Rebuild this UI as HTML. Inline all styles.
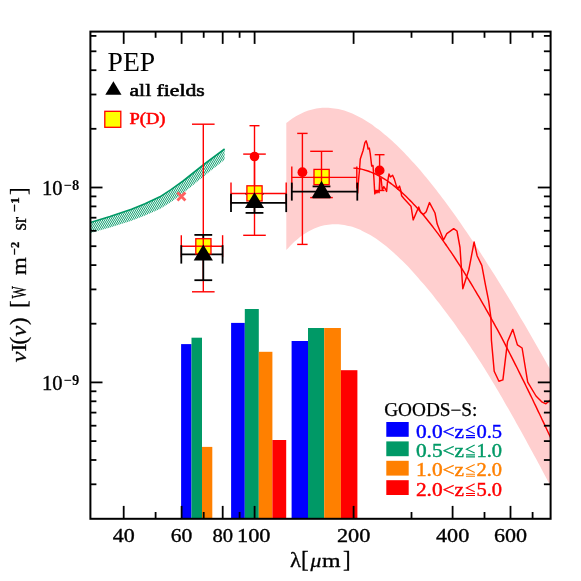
<!DOCTYPE html><html><head><meta charset="utf-8"><title>PEP CIB</title>
<style>html,body{margin:0;padding:0;background:#fff}svg{display:block;will-change:transform}text{font-family:"Liberation Serif",serif}</style></head><body>
<svg width="581" height="581" viewBox="0 0 581 581">
<defs>
<clipPath id="c"><rect x="90.4" y="31.6" width="460.2" height="487.2"/></clipPath></defs>
<path d="M286.3 123.0 C287.0 122.5 289.0 120.9 290.3 119.9 C291.6 119.0 293.0 118.1 294.3 117.2 C295.6 116.4 297.0 115.6 298.3 114.9 C299.6 114.1 301.0 113.5 302.3 112.9 C303.6 112.3 305.0 111.7 306.3 111.2 C307.6 110.7 309.0 110.3 310.3 109.9 C311.6 109.5 313.0 109.2 314.3 108.9 C315.6 108.6 317.0 108.4 318.3 108.2 C319.6 108.0 321.0 107.9 322.3 107.8 C323.6 107.7 325.0 107.7 326.3 107.7 C327.6 107.7 329.0 107.8 330.3 107.9 C331.6 108.0 333.0 108.2 334.3 108.4 C335.6 108.6 337.0 108.8 338.3 109.1 C339.6 109.4 341.0 109.7 342.3 110.1 C343.6 110.5 345.0 110.9 346.3 111.3 C347.6 111.8 349.0 112.3 350.3 112.8 C351.6 113.4 353.0 113.9 354.3 114.5 C355.6 115.1 357.0 115.8 358.3 116.5 C359.6 117.2 361.0 117.9 362.3 118.6 C363.6 119.4 365.0 120.2 366.3 121.0 C367.6 121.8 369.0 122.7 370.3 123.6 C371.6 124.5 373.0 125.4 374.3 126.4 C375.6 127.3 377.0 128.3 378.3 129.3 C379.6 130.3 381.0 131.4 382.3 132.5 C383.6 133.6 385.0 134.7 386.3 135.8 C387.6 136.9 389.0 138.1 390.3 139.3 C391.6 140.5 393.0 141.7 394.3 143.0 C395.6 144.2 397.0 145.5 398.3 146.8 C399.6 148.1 401.0 149.4 402.3 150.8 C403.6 152.1 405.0 153.5 406.3 154.9 C407.6 156.3 409.0 157.7 410.3 159.2 C411.6 160.6 413.0 162.1 414.3 163.6 C415.6 165.1 417.0 166.6 418.3 168.1 C419.6 169.7 421.0 171.2 422.3 172.8 C423.6 174.4 425.0 176.0 426.3 177.6 C427.6 179.2 429.0 180.9 430.3 182.5 C431.6 184.2 433.0 185.9 434.3 187.6 C435.6 189.3 437.0 191.0 438.3 192.7 C439.6 194.4 441.0 196.2 442.3 198.0 C443.6 199.7 445.0 201.5 446.3 203.3 C447.6 205.1 449.0 206.9 450.3 208.8 C451.6 210.6 453.0 212.5 454.3 214.3 C455.6 216.2 457.0 218.1 458.3 220.0 C459.6 221.9 461.0 223.8 462.3 225.7 C463.6 227.7 465.0 229.6 466.3 231.6 C467.6 233.5 469.0 235.5 470.3 237.5 C471.6 239.5 473.0 241.5 474.3 243.5 C475.6 245.5 477.0 247.5 478.3 249.5 C479.6 251.6 481.0 253.6 482.3 255.7 C483.6 257.8 485.0 259.8 486.3 261.9 C487.6 264.0 489.0 266.1 490.3 268.2 C491.6 270.3 493.0 272.4 494.3 274.6 C495.6 276.7 497.0 278.8 498.3 281.0 C499.6 283.1 501.0 285.3 502.3 287.5 C503.6 289.6 505.0 291.8 506.3 294.0 C507.6 296.2 509.0 298.4 510.3 300.6 C511.6 302.8 513.0 305.1 514.3 307.3 C515.6 309.5 517.0 311.8 518.3 314.0 C519.6 316.3 521.0 318.5 522.3 320.8 C523.6 323.0 525.0 325.3 526.3 327.6 C527.6 329.9 529.0 332.2 530.3 334.5 C531.6 336.8 533.0 339.1 534.3 341.4 C535.6 343.7 537.0 346.0 538.3 348.4 C539.6 350.7 541.0 353.0 542.3 355.4 C543.6 357.7 545.0 360.1 546.3 362.4 C547.6 364.8 549.6 368.2 550.3 369.5 C551.0 370.8 550.5 370.0 550.6 370.0 L552.4 489.6 C552.4 489.5 552.8 490.4 552.1 489.0 C551.4 487.7 549.5 484.0 548.1 481.5 C546.8 479.0 545.5 476.5 544.1 474.0 C542.8 471.5 541.5 469.0 540.2 466.5 C538.8 464.0 537.5 461.5 536.2 459.1 C534.9 456.6 533.5 454.2 532.2 451.7 C530.9 449.3 529.6 446.9 528.2 444.4 C526.9 442.0 525.6 439.6 524.3 437.2 C522.9 434.8 521.6 432.4 520.3 430.0 C519.0 427.6 517.6 425.2 516.3 422.9 C515.0 420.5 513.7 418.2 512.3 415.8 C511.0 413.5 509.7 411.2 508.4 408.8 C507.0 406.5 505.7 404.2 504.4 401.9 C503.0 399.6 501.7 397.3 500.4 395.1 C499.1 392.8 497.7 390.5 496.4 388.3 C495.1 386.1 493.8 383.8 492.4 381.6 C491.1 379.4 489.8 377.2 488.5 375.0 C487.1 372.8 485.8 370.6 484.5 368.5 C483.1 366.3 481.8 364.1 480.4 362.0 C479.1 359.9 477.7 357.8 476.3 355.7 C474.9 353.5 473.5 351.5 472.1 349.4 C470.8 347.3 469.4 345.3 468.0 343.2 C466.6 341.2 465.2 339.2 463.9 337.1 C462.5 335.1 461.1 333.1 459.7 331.2 C458.3 329.2 456.9 327.2 455.6 325.3 C454.2 323.4 452.8 321.5 451.4 319.6 C450.0 317.7 448.6 315.8 447.3 313.9 C445.9 312.1 444.5 310.2 443.1 308.4 C441.7 306.6 440.4 304.8 439.0 303.0 C437.6 301.2 436.2 299.5 434.8 297.7 C433.4 296.0 432.1 294.3 430.7 292.6 C429.3 290.9 427.9 289.3 426.5 287.6 C425.1 286.0 423.8 284.3 422.4 282.8 C421.0 281.2 419.6 279.6 418.3 278.0 C417.0 276.5 415.6 275.0 414.3 273.5 C413.0 272.0 411.6 270.5 410.3 269.1 C409.0 267.6 407.6 266.2 406.3 264.8 C405.0 263.5 403.6 262.1 402.3 260.8 C401.0 259.5 399.6 258.2 398.3 256.9 C397.0 255.6 395.6 254.4 394.3 253.2 C393.0 252.0 391.6 250.8 390.3 249.7 C389.0 248.5 387.6 247.4 386.3 246.3 C385.0 245.3 383.6 244.2 382.3 243.2 C381.0 242.2 379.6 241.2 378.3 240.3 C377.0 239.4 375.6 238.5 374.3 237.6 C373.0 236.7 371.6 235.9 370.3 235.1 C369.0 234.3 367.6 233.6 366.3 232.9 C365.0 232.2 363.6 231.5 362.3 230.9 C361.0 230.2 359.6 229.6 358.3 229.1 C357.0 228.5 355.6 228.0 354.3 227.6 C353.0 227.1 351.6 226.7 350.3 226.3 C349.0 226.0 347.6 225.6 346.3 225.4 C345.0 225.1 343.6 224.9 342.3 224.7 C341.0 224.5 339.6 224.4 338.3 224.3 C337.0 224.2 335.6 224.2 334.3 224.2 C333.0 224.2 331.6 224.3 330.3 224.4 C329.0 224.5 327.6 224.7 326.3 224.9 C325.0 225.1 323.6 225.4 322.3 225.8 C321.0 226.1 319.6 226.5 318.3 226.9 C317.0 227.4 315.6 227.9 314.3 228.5 C313.0 229.1 311.6 229.7 310.3 230.4 C309.0 231.1 307.6 231.8 306.3 232.7 C305.0 233.5 303.6 234.4 302.3 235.3 C301.0 236.3 299.6 237.3 298.3 238.4 C297.0 239.5 295.6 240.6 294.3 241.8 C293.0 243.0 291.6 244.3 290.3 245.7 C289.0 247.1 287.0 249.3 286.3 250.0 Z" fill="#ffcfcf" clip-path="url(#c)"/>
<clipPath id="gb"><polygon points="90.4,222.6 110.0,216.6 131.5,209.3 145.0,203.7 159.9,196.8 171.0,189.6 183.1,181.0 203.8,164.5 224.6,149.0 224.6,159.8 203.8,176.3 183.1,193.3 171.0,201.9 159.9,208.9 145.0,215.5 131.5,220.7 110.0,227.5 90.4,233.0"/></clipPath>
<path d="M60.00 240L115.00 145M61.95 240L116.95 145M63.90 240L118.90 145M65.85 240L120.85 145M67.80 240L122.80 145M69.75 240L124.75 145M71.70 240L126.70 145M73.65 240L128.65 145M75.60 240L130.60 145M77.55 240L132.55 145M79.50 240L134.50 145M81.45 240L136.45 145M83.40 240L138.40 145M85.35 240L140.35 145M87.30 240L142.30 145M89.25 240L144.25 145M91.20 240L146.20 145M93.15 240L148.15 145M95.10 240L150.10 145M97.05 240L152.05 145M99.00 240L154.00 145M100.95 240L155.95 145M102.90 240L157.90 145M104.85 240L159.85 145M106.80 240L161.80 145M108.75 240L163.75 145M110.70 240L165.70 145M112.65 240L167.65 145M114.60 240L169.60 145M116.55 240L171.55 145M118.50 240L173.50 145M120.45 240L175.45 145M122.40 240L177.40 145M124.35 240L179.35 145M126.30 240L181.30 145M128.25 240L183.25 145M130.20 240L185.20 145M132.15 240L187.15 145M134.10 240L189.10 145M136.05 240L191.05 145M138.00 240L193.00 145M139.95 240L194.95 145M141.90 240L196.90 145M143.85 240L198.85 145M145.80 240L200.80 145M147.75 240L202.75 145M149.70 240L204.70 145M151.65 240L206.65 145M153.60 240L208.60 145M155.55 240L210.55 145M157.50 240L212.50 145M159.45 240L214.45 145M161.40 240L216.40 145M163.35 240L218.35 145M165.30 240L220.30 145M167.25 240L222.25 145M169.20 240L224.20 145M171.15 240L226.15 145M173.10 240L228.10 145M175.05 240L230.05 145M177.00 240L232.00 145M178.95 240L233.95 145M180.90 240L235.90 145M182.85 240L237.85 145M184.80 240L239.80 145M186.75 240L241.75 145M188.70 240L243.70 145M190.65 240L245.65 145M192.60 240L247.60 145M194.55 240L249.55 145M196.50 240L251.50 145M198.45 240L253.45 145M200.40 240L255.40 145M202.35 240L257.35 145M204.30 240L259.30 145M206.25 240L261.25 145M208.20 240L263.20 145M210.15 240L265.15 145M212.10 240L267.10 145M214.05 240L269.05 145M216.00 240L271.00 145M217.95 240L272.95 145M219.90 240L274.90 145M221.85 240L276.85 145M223.80 240L278.80 145M225.75 240L280.75 145M227.70 240L282.70 145M229.65 240L284.65 145M231.60 240L286.60 145M233.55 240L288.55 145M235.50 240L290.50 145M237.45 240L292.45 145M239.40 240L294.40 145" stroke="#009966" stroke-width="0.95" fill="none" clip-path="url(#gb)"/>
<polyline points="90.4,222.6 110.0,216.6 131.5,209.3 145.0,203.7 159.9,196.8 171.0,189.6 183.1,181.0 203.8,164.5 224.6,149.0" fill="none" stroke="#009966" stroke-width="1.6"/>
<rect x="181.1" y="344.1" width="10.4" height="174.7" fill="#0000ff"/>
<rect x="191.5" y="337.7" width="10.5" height="181.1" fill="#009966"/>
<rect x="202.0" y="446.9" width="10.3" height="71.9" fill="#ff8000"/>
<rect x="231.1" y="322.9" width="13.7" height="195.9" fill="#0000ff"/>
<rect x="244.8" y="309.0" width="14.0" height="209.8" fill="#009966"/>
<rect x="258.8" y="351.8" width="13.6" height="167.0" fill="#ff8000"/>
<rect x="272.4" y="440.0" width="13.8" height="78.8" fill="#ff0000"/>
<rect x="291.6" y="341.0" width="16.4" height="177.8" fill="#0000ff"/>
<rect x="308.0" y="328.0" width="16.2" height="190.8" fill="#009966"/>
<rect x="324.2" y="328.0" width="16.7" height="190.8" fill="#ff8000"/>
<rect x="340.9" y="370.2" width="16.5" height="148.6" fill="#ff0000"/>
<path d="M177.4 192.4 L185.4 200.4 M177.4 200.4 L185.4 192.4" stroke="#ff6060" stroke-width="2.8" fill="none"/>
<path d="M353.4 168.1 C354.1 168.1 356.1 168.3 357.4 168.4 C358.7 168.6 360.1 168.9 361.4 169.1 C362.7 169.4 364.1 169.8 365.4 170.2 C366.7 170.5 368.1 171.0 369.4 171.5 C370.7 172.0 372.1 172.5 373.4 173.1 C374.7 173.7 376.1 174.3 377.4 175.0 C378.7 175.7 380.1 176.4 381.4 177.2 C382.7 178.0 384.1 178.8 385.4 179.7 C386.7 180.5 388.1 181.5 389.4 182.4 C390.7 183.4 392.1 184.4 393.4 185.4 C394.7 186.4 396.1 187.5 397.4 188.6 C398.7 189.8 400.1 190.9 401.4 192.1 C402.7 193.3 404.1 194.5 405.4 195.8 C406.7 197.1 408.1 198.4 409.4 199.7 C410.7 201.1 412.1 202.5 413.4 203.9 C414.7 205.3 416.1 206.8 417.4 208.2 C418.7 209.7 420.1 211.2 421.4 212.8 C422.7 214.3 424.1 215.9 425.4 217.5 C426.7 219.2 428.1 220.8 429.4 222.5 C430.7 224.2 432.1 225.9 433.4 227.6 C434.7 229.3 436.1 231.1 437.4 232.9 C438.7 234.7 440.1 236.5 441.4 238.4 C442.7 240.2 444.1 242.1 445.4 244.0 C446.7 245.9 448.1 247.8 449.4 249.8 C450.7 251.7 452.1 253.7 453.4 255.7 C454.7 257.7 456.1 259.8 457.4 261.8 C458.7 263.9 460.1 265.9 461.4 268.0 C462.7 270.1 464.1 272.3 465.4 274.4 C466.7 276.5 468.1 278.7 469.4 280.9 C470.7 283.1 472.1 285.3 473.4 287.5 C474.7 289.8 476.1 292.0 477.4 294.3 C478.7 296.5 480.1 298.8 481.4 301.1 C482.7 303.5 484.1 305.8 485.4 308.1 C486.7 310.5 488.1 312.8 489.4 315.2 C490.7 317.6 492.1 320.0 493.4 322.4 C494.7 324.8 496.1 327.3 497.4 329.7 C498.7 332.2 500.1 334.7 501.4 337.2 C502.7 339.7 504.1 342.3 505.4 344.9 C506.7 347.5 508.1 350.1 509.4 352.7 C510.7 355.3 512.1 357.9 513.4 360.6 C514.7 363.2 516.1 365.9 517.4 368.5 C518.7 371.2 520.1 373.9 521.4 376.6 C522.7 379.3 524.1 382.0 525.4 384.7 C526.7 387.5 528.1 390.2 529.4 392.9 C530.7 395.7 532.1 398.4 533.4 401.2 C534.7 404.0 536.1 406.8 537.4 409.6 C538.7 412.4 540.1 415.2 541.4 418.0 C542.7 420.8 544.1 423.6 545.4 426.5 C546.7 429.3 548.5 433.2 549.4 435.0 C550.3 436.9 550.4 437.2 550.6 437.6" fill="none" stroke="#ff0000" stroke-width="1.45" clip-path="url(#c)"/>
<polyline points="357.7,193.5 358.3,183.0 359.5,169.8 360.3,158.9 363.1,150.5 364.9,142.7 366.1,140.8 367.3,144.5 368.1,149.0 369.3,148.1 370.3,154.1 371.7,166.1 373.0,165.5 373.9,178.2 374.8,193.9 376.1,191.4 376.9,192.9 378.1,190.8 379.1,192.7 379.9,178.2 381.1,178.2 382.3,190.2 383.8,186.6 385.4,189.0 386.6,191.4 387.4,183.0 389.0,174.0 390.5,177.0 392.6,175.2 394.4,179.4 396.2,185.4 397.7,189.0 399.5,186.0 400.7,190.2 401.6,195.7 404.1,198.7 411.0,206.2 413.2,219.9 418.7,207.0 420.7,212.5 423.4,214.4 426.2,211.7 429.5,202.6 435.0,213.0 437.2,224.1 443.5,240.0 446.8,233.7 453.7,228.7 457.0,231.0 460.0,247.5 462.8,288.8 468.9,269.5 474.1,242.0 477.1,255.7 481.8,265.4 485.4,284.7 488.7,301.2 490.9,317.7 491.4,340.0 494.2,371.3 498.9,381.2 502.9,379.9 507.5,341.8 512.8,329.4 517.4,344.9 522.1,348.0 527.7,382.1 536.0,396.0 542.2,402.2 545.9,403.8 550.6,399.8" fill="none" stroke="#ff0000" stroke-width="1.45" stroke-linejoin="round" clip-path="url(#c)"/>
<line x1="203.3" y1="124.2" x2="203.3" y2="291.8" stroke="#ff0000" stroke-width="1.40"/>
<line x1="192.0" y1="124.2" x2="214.6" y2="124.2" stroke="#ff0000" stroke-width="1.40"/>
<line x1="192.0" y1="291.8" x2="214.6" y2="291.8" stroke="#ff0000" stroke-width="1.40"/>
<line x1="254.5" y1="154.1" x2="254.5" y2="235.3" stroke="#ff0000" stroke-width="1.40"/>
<line x1="243.2" y1="154.1" x2="265.8" y2="154.1" stroke="#ff0000" stroke-width="1.40"/>
<line x1="243.2" y1="235.3" x2="265.8" y2="235.3" stroke="#ff0000" stroke-width="1.40"/>
<line x1="321.5" y1="151.3" x2="321.5" y2="197.6" stroke="#ff0000" stroke-width="1.40"/>
<line x1="310.2" y1="151.3" x2="332.8" y2="151.3" stroke="#ff0000" stroke-width="1.40"/>
<line x1="310.2" y1="197.6" x2="332.8" y2="197.6" stroke="#ff0000" stroke-width="1.40"/>
<line x1="181.3" y1="246.2" x2="222.6" y2="246.2" stroke="#ff0000" stroke-width="1.40"/>
<line x1="181.3" y1="235.2" x2="181.3" y2="257.2" stroke="#ff0000" stroke-width="1.40"/>
<line x1="222.6" y1="235.2" x2="222.6" y2="257.2" stroke="#ff0000" stroke-width="1.40"/>
<line x1="231.0" y1="193.5" x2="286.2" y2="193.5" stroke="#ff0000" stroke-width="1.40"/>
<line x1="231.0" y1="182.5" x2="231.0" y2="204.5" stroke="#ff0000" stroke-width="1.40"/>
<line x1="286.2" y1="182.5" x2="286.2" y2="204.5" stroke="#ff0000" stroke-width="1.40"/>
<line x1="291.8" y1="177.4" x2="356.8" y2="177.4" stroke="#ff0000" stroke-width="1.40"/>
<line x1="291.8" y1="166.4" x2="291.8" y2="188.4" stroke="#ff0000" stroke-width="1.40"/>
<line x1="356.8" y1="166.4" x2="356.8" y2="188.4" stroke="#ff0000" stroke-width="1.40"/>
<line x1="254.5" y1="125.7" x2="254.5" y2="205.6" stroke="#ff0000" stroke-width="1.40"/>
<line x1="249.5" y1="125.7" x2="259.5" y2="125.7" stroke="#ff0000" stroke-width="1.40"/>
<line x1="249.5" y1="205.6" x2="259.5" y2="205.6" stroke="#ff0000" stroke-width="1.40"/>
<circle cx="254.5" cy="156.5" r="4.8" fill="#ff0000"/>
<line x1="302.4" y1="133.4" x2="302.4" y2="244.4" stroke="#ff0000" stroke-width="1.40"/>
<line x1="297.2" y1="133.4" x2="307.6" y2="133.4" stroke="#ff0000" stroke-width="1.40"/>
<line x1="297.2" y1="244.4" x2="307.6" y2="244.4" stroke="#ff0000" stroke-width="1.40"/>
<circle cx="302.4" cy="172.2" r="4.9" fill="#ff0000"/>
<line x1="379.6" y1="154.7" x2="379.6" y2="190.5" stroke="#ff0000" stroke-width="1.40"/>
<line x1="374.7" y1="154.7" x2="384.5" y2="154.7" stroke="#ff0000" stroke-width="1.40"/>
<line x1="374.7" y1="190.5" x2="384.5" y2="190.5" stroke="#ff0000" stroke-width="1.40"/>
<circle cx="379.6" cy="170.4" r="4.9" fill="#ff0000"/>
<line x1="181.3" y1="254.4" x2="222.6" y2="254.4" stroke="#000" stroke-width="1.80"/>
<line x1="181.3" y1="245.2" x2="181.3" y2="263.6" stroke="#000" stroke-width="1.80"/>
<line x1="222.6" y1="245.2" x2="222.6" y2="263.6" stroke="#000" stroke-width="1.80"/>
<line x1="203.3" y1="234.9" x2="203.3" y2="280.2" stroke="#000" stroke-width="1.80"/>
<line x1="194.4" y1="234.9" x2="212.2" y2="234.9" stroke="#000" stroke-width="1.80"/>
<line x1="194.4" y1="280.2" x2="212.2" y2="280.2" stroke="#000" stroke-width="1.80"/>
<line x1="231.0" y1="202.9" x2="286.2" y2="202.9" stroke="#000" stroke-width="1.80"/>
<line x1="231.0" y1="193.7" x2="231.0" y2="212.1" stroke="#000" stroke-width="1.80"/>
<line x1="286.2" y1="193.7" x2="286.2" y2="212.1" stroke="#000" stroke-width="1.80"/>
<line x1="254.5" y1="194.0" x2="254.5" y2="212.9" stroke="#000" stroke-width="1.80"/>
<line x1="245.6" y1="194.0" x2="263.4" y2="194.0" stroke="#000" stroke-width="1.80"/>
<line x1="245.6" y1="212.9" x2="263.4" y2="212.9" stroke="#000" stroke-width="1.80"/>
<line x1="291.8" y1="191.6" x2="357.3" y2="191.6" stroke="#000" stroke-width="1.80"/>
<line x1="291.8" y1="182.6" x2="291.8" y2="200.6" stroke="#000" stroke-width="1.80"/>
<line x1="357.3" y1="182.6" x2="357.3" y2="200.6" stroke="#000" stroke-width="1.80"/>
<line x1="321.5" y1="186.4" x2="321.5" y2="197.4" stroke="#000" stroke-width="1.80"/>
<line x1="312.6" y1="186.4" x2="330.4" y2="186.4" stroke="#000" stroke-width="1.80"/>
<line x1="312.6" y1="197.4" x2="330.4" y2="197.4" stroke="#000" stroke-width="1.80"/>
<rect x="195.8" y="238.7" width="15.2" height="15.2" fill="#ffff00" stroke="#ff0000" stroke-width="1.3"/>
<line x1="195.0" y1="246.2" x2="212.0" y2="246.2" stroke="#ff0000" stroke-width="1.40"/>
<line x1="203.3" y1="238.0" x2="203.3" y2="255.0" stroke="#ff0000" stroke-width="1.40"/>
<rect x="246.9" y="185.8" width="15.2" height="15.2" fill="#ffff00" stroke="#ff0000" stroke-width="1.3"/>
<line x1="246.0" y1="193.5" x2="263.0" y2="193.5" stroke="#ff0000" stroke-width="1.40"/>
<line x1="254.5" y1="185.0" x2="254.5" y2="202.0" stroke="#ff0000" stroke-width="1.40"/>
<rect x="314.0" y="169.4" width="15.2" height="15.2" fill="#ffff00" stroke="#ff0000" stroke-width="1.3"/>
<line x1="313.0" y1="177.4" x2="330.0" y2="177.4" stroke="#ff0000" stroke-width="1.40"/>
<line x1="321.5" y1="169.0" x2="321.5" y2="185.0" stroke="#ff0000" stroke-width="1.40"/>
<polygon points="203.3,244.6 193.7,260.4 212.9,260.4" fill="#000"/>
<polygon points="254.5,192.2 244.9,208.0 264.1,208.0" fill="#000"/>
<polygon points="321.5,180.7 311.9,197.5 331.1,197.5" fill="#000"/>
<rect x="90.4" y="31.6" width="460.2" height="487.2" fill="none" stroke="#000" stroke-width="2"/>
<line x1="123.7" y1="518.8" x2="123.7" y2="505.9" stroke="#000" stroke-width="1.80"/>
<line x1="123.7" y1="31.6" x2="123.7" y2="43.9" stroke="#000" stroke-width="1.80"/>
<line x1="155.6" y1="518.8" x2="155.6" y2="512.0" stroke="#000" stroke-width="1.80"/>
<line x1="155.6" y1="31.6" x2="155.6" y2="37.8" stroke="#000" stroke-width="1.80"/>
<line x1="181.6" y1="518.8" x2="181.6" y2="505.9" stroke="#000" stroke-width="1.80"/>
<line x1="181.6" y1="31.6" x2="181.6" y2="43.9" stroke="#000" stroke-width="1.80"/>
<line x1="203.7" y1="518.8" x2="203.7" y2="512.0" stroke="#000" stroke-width="1.80"/>
<line x1="203.7" y1="31.6" x2="203.7" y2="37.8" stroke="#000" stroke-width="1.80"/>
<line x1="222.7" y1="518.8" x2="222.7" y2="505.9" stroke="#000" stroke-width="1.80"/>
<line x1="222.7" y1="31.6" x2="222.7" y2="43.9" stroke="#000" stroke-width="1.80"/>
<line x1="239.6" y1="518.8" x2="239.6" y2="512.0" stroke="#000" stroke-width="1.80"/>
<line x1="239.6" y1="31.6" x2="239.6" y2="37.8" stroke="#000" stroke-width="1.80"/>
<line x1="254.6" y1="518.8" x2="254.6" y2="505.9" stroke="#000" stroke-width="1.80"/>
<line x1="254.6" y1="31.6" x2="254.6" y2="43.9" stroke="#000" stroke-width="1.80"/>
<line x1="353.6" y1="518.8" x2="353.6" y2="505.9" stroke="#000" stroke-width="1.80"/>
<line x1="353.6" y1="31.6" x2="353.6" y2="43.9" stroke="#000" stroke-width="1.80"/>
<line x1="411.5" y1="518.8" x2="411.5" y2="512.0" stroke="#000" stroke-width="1.80"/>
<line x1="411.5" y1="31.6" x2="411.5" y2="37.8" stroke="#000" stroke-width="1.80"/>
<line x1="452.6" y1="518.8" x2="452.6" y2="505.9" stroke="#000" stroke-width="1.80"/>
<line x1="452.6" y1="31.6" x2="452.6" y2="43.9" stroke="#000" stroke-width="1.80"/>
<line x1="484.5" y1="518.8" x2="484.5" y2="512.0" stroke="#000" stroke-width="1.80"/>
<line x1="484.5" y1="31.6" x2="484.5" y2="37.8" stroke="#000" stroke-width="1.80"/>
<line x1="510.5" y1="518.8" x2="510.5" y2="505.9" stroke="#000" stroke-width="1.80"/>
<line x1="510.5" y1="31.6" x2="510.5" y2="43.9" stroke="#000" stroke-width="1.80"/>
<line x1="532.6" y1="518.8" x2="532.6" y2="512.0" stroke="#000" stroke-width="1.80"/>
<line x1="532.6" y1="31.6" x2="532.6" y2="37.8" stroke="#000" stroke-width="1.80"/>
<line x1="90.4" y1="484.3" x2="96.4" y2="484.3" stroke="#000" stroke-width="1.80"/>
<line x1="550.6" y1="484.3" x2="543.9" y2="484.3" stroke="#000" stroke-width="1.80"/>
<line x1="90.4" y1="460.0" x2="96.4" y2="460.0" stroke="#000" stroke-width="1.80"/>
<line x1="550.6" y1="460.0" x2="543.9" y2="460.0" stroke="#000" stroke-width="1.80"/>
<line x1="90.4" y1="441.1" x2="96.4" y2="441.1" stroke="#000" stroke-width="1.80"/>
<line x1="550.6" y1="441.1" x2="543.9" y2="441.1" stroke="#000" stroke-width="1.80"/>
<line x1="90.4" y1="425.7" x2="96.4" y2="425.7" stroke="#000" stroke-width="1.80"/>
<line x1="550.6" y1="425.7" x2="543.9" y2="425.7" stroke="#000" stroke-width="1.80"/>
<line x1="90.4" y1="412.6" x2="96.4" y2="412.6" stroke="#000" stroke-width="1.80"/>
<line x1="550.6" y1="412.6" x2="543.9" y2="412.6" stroke="#000" stroke-width="1.80"/>
<line x1="90.4" y1="401.3" x2="96.4" y2="401.3" stroke="#000" stroke-width="1.80"/>
<line x1="550.6" y1="401.3" x2="543.9" y2="401.3" stroke="#000" stroke-width="1.80"/>
<line x1="90.4" y1="391.3" x2="96.4" y2="391.3" stroke="#000" stroke-width="1.80"/>
<line x1="550.6" y1="391.3" x2="543.9" y2="391.3" stroke="#000" stroke-width="1.80"/>
<line x1="90.4" y1="382.4" x2="102.5" y2="382.4" stroke="#000" stroke-width="1.80"/>
<line x1="550.6" y1="382.4" x2="537.8" y2="382.4" stroke="#000" stroke-width="1.80"/>
<line x1="90.4" y1="323.7" x2="96.4" y2="323.7" stroke="#000" stroke-width="1.80"/>
<line x1="550.6" y1="323.7" x2="543.9" y2="323.7" stroke="#000" stroke-width="1.80"/>
<line x1="90.4" y1="289.4" x2="96.4" y2="289.4" stroke="#000" stroke-width="1.80"/>
<line x1="550.6" y1="289.4" x2="543.9" y2="289.4" stroke="#000" stroke-width="1.80"/>
<line x1="90.4" y1="265.1" x2="96.4" y2="265.1" stroke="#000" stroke-width="1.80"/>
<line x1="550.6" y1="265.1" x2="543.9" y2="265.1" stroke="#000" stroke-width="1.80"/>
<line x1="90.4" y1="246.2" x2="96.4" y2="246.2" stroke="#000" stroke-width="1.80"/>
<line x1="550.6" y1="246.2" x2="543.9" y2="246.2" stroke="#000" stroke-width="1.80"/>
<line x1="90.4" y1="230.8" x2="96.4" y2="230.8" stroke="#000" stroke-width="1.80"/>
<line x1="550.6" y1="230.8" x2="543.9" y2="230.8" stroke="#000" stroke-width="1.80"/>
<line x1="90.4" y1="217.7" x2="96.4" y2="217.7" stroke="#000" stroke-width="1.80"/>
<line x1="550.6" y1="217.7" x2="543.9" y2="217.7" stroke="#000" stroke-width="1.80"/>
<line x1="90.4" y1="206.4" x2="96.4" y2="206.4" stroke="#000" stroke-width="1.80"/>
<line x1="550.6" y1="206.4" x2="543.9" y2="206.4" stroke="#000" stroke-width="1.80"/>
<line x1="90.4" y1="196.4" x2="96.4" y2="196.4" stroke="#000" stroke-width="1.80"/>
<line x1="550.6" y1="196.4" x2="543.9" y2="196.4" stroke="#000" stroke-width="1.80"/>
<line x1="90.4" y1="187.5" x2="102.5" y2="187.5" stroke="#000" stroke-width="1.80"/>
<line x1="550.6" y1="187.5" x2="537.8" y2="187.5" stroke="#000" stroke-width="1.80"/>
<line x1="90.4" y1="128.8" x2="96.4" y2="128.8" stroke="#000" stroke-width="1.80"/>
<line x1="550.6" y1="128.8" x2="543.9" y2="128.8" stroke="#000" stroke-width="1.80"/>
<line x1="90.4" y1="94.5" x2="96.4" y2="94.5" stroke="#000" stroke-width="1.80"/>
<line x1="550.6" y1="94.5" x2="543.9" y2="94.5" stroke="#000" stroke-width="1.80"/>
<line x1="90.4" y1="70.2" x2="96.4" y2="70.2" stroke="#000" stroke-width="1.80"/>
<line x1="550.6" y1="70.2" x2="543.9" y2="70.2" stroke="#000" stroke-width="1.80"/>
<line x1="90.4" y1="51.3" x2="96.4" y2="51.3" stroke="#000" stroke-width="1.80"/>
<line x1="550.6" y1="51.3" x2="543.9" y2="51.3" stroke="#000" stroke-width="1.80"/>
<line x1="90.4" y1="35.9" x2="96.4" y2="35.9" stroke="#000" stroke-width="1.80"/>
<line x1="550.6" y1="35.9" x2="543.9" y2="35.9" stroke="#000" stroke-width="1.80"/>
<text x="112.7" y="542.4" font-size="19.2" text-anchor="start" fill="#000" font-weight="normal" textLength="22.0" lengthAdjust="spacingAndGlyphs" stroke="#000" stroke-width="0.35">40</text>
<text x="170.8" y="542.4" font-size="19.2" text-anchor="start" fill="#000" font-weight="normal" textLength="21.6" lengthAdjust="spacingAndGlyphs" stroke="#000" stroke-width="0.35">60</text>
<text x="212.4" y="542.4" font-size="19.2" text-anchor="start" fill="#000" font-weight="normal" textLength="20.6" lengthAdjust="spacingAndGlyphs" stroke="#000" stroke-width="0.35">80</text>
<text x="237.0" y="542.4" font-size="19.2" text-anchor="start" fill="#000" font-weight="normal" textLength="33.4" lengthAdjust="spacingAndGlyphs" stroke="#000" stroke-width="0.35">100</text>
<text x="336.9" y="542.4" font-size="19.2" text-anchor="start" fill="#000" font-weight="normal" textLength="33.4" lengthAdjust="spacingAndGlyphs" stroke="#000" stroke-width="0.35">200</text>
<text x="436.0" y="542.4" font-size="19.2" text-anchor="start" fill="#000" font-weight="normal" textLength="33.2" lengthAdjust="spacingAndGlyphs" stroke="#000" stroke-width="0.35">400</text>
<text x="494.0" y="542.4" font-size="19.2" text-anchor="start" fill="#000" font-weight="normal" textLength="33.1" lengthAdjust="spacingAndGlyphs" stroke="#000" stroke-width="0.35">600</text>
<text x="42.0" y="194.8" font-size="20.0" text-anchor="start" fill="#000" font-weight="normal" textLength="20.6" lengthAdjust="spacingAndGlyphs" stroke="#000" stroke-width="0.35">10</text>
<text x="63.6" y="189.6" font-size="14.8" text-anchor="start" fill="#000" font-weight="bold" textLength="15.6" lengthAdjust="spacingAndGlyphs" >−8</text>
<text x="42.0" y="389.7" font-size="20.0" text-anchor="start" fill="#000" font-weight="normal" textLength="20.6" lengthAdjust="spacingAndGlyphs" stroke="#000" stroke-width="0.35">10</text>
<text x="63.6" y="384.5" font-size="14.8" text-anchor="start" fill="#000" font-weight="bold" textLength="15.6" lengthAdjust="spacingAndGlyphs" >−9</text>
<text x="289.9" y="567.3" font-size="20.5" text-anchor="start" fill="#000" font-weight="normal" textLength="11.0" lengthAdjust="spacingAndGlyphs" stroke="#000" stroke-width="0.3">λ</text>
<text x="301.1" y="567.3" font-size="23.0" text-anchor="start" fill="#000" font-weight="normal" stroke="#000" stroke-width="0.3">[</text>
<text x="310.4" y="566.7" font-size="19.5" text-anchor="start" fill="#000" font-weight="normal" textLength="10.8" lengthAdjust="spacingAndGlyphs" font-style="italic" stroke="#000" stroke-width="0.3">μ</text>
<text x="322.0" y="566.7" font-size="19.5" text-anchor="start" fill="#000" font-weight="normal" textLength="18.6" lengthAdjust="spacingAndGlyphs" stroke="#000" stroke-width="0.3">m</text>
<text x="343.1" y="567.3" font-size="23.0" text-anchor="start" fill="#000" font-weight="normal" stroke="#000" stroke-width="0.3">]</text>
<g transform="translate(25.8,362) rotate(-90)">
<text x="-0.3" y="0.0" font-size="21.0" textLength="10.8" lengthAdjust="spacingAndGlyphs" stroke="#000" stroke-width="0.3" font-style="italic">ν</text>
<text x="10.6" y="0.0" font-size="21.0" textLength="7.8" lengthAdjust="spacingAndGlyphs" stroke="#000" stroke-width="0.3" >I</text>
<text x="17.6" y="0.0" font-size="22.5" stroke="#000" stroke-width="0.3" >(</text>
<text x="25.4" y="0.0" font-size="21.0" textLength="10.8" lengthAdjust="spacingAndGlyphs" stroke="#000" stroke-width="0.3" font-style="italic">ν</text>
<text x="36.9" y="0.0" font-size="22.5" stroke="#000" stroke-width="0.3" >)</text>
<text x="54.0" y="0.3" font-size="23.0" stroke="#000" stroke-width="0.3" >[</text>
<text x="63.4" y="0.0" font-size="21.0" textLength="12.4" lengthAdjust="spacingAndGlyphs" stroke="#000" stroke-width="0.3" >W</text>
<text x="87.0" y="0.0" font-size="21.0" textLength="17.8" lengthAdjust="spacingAndGlyphs" stroke="#000" stroke-width="0.3" >m</text>
<text x="106.8" y="-6.9" font-size="13.5" textLength="13.4" lengthAdjust="spacingAndGlyphs" stroke="#000" stroke-width="0.3" font-weight="bold">−2</text>
<text x="131.4" y="0.0" font-size="21.0" textLength="13.8" lengthAdjust="spacingAndGlyphs" stroke="#000" stroke-width="0.3" >sr</text>
<text x="150.0" y="-6.9" font-size="13.5" textLength="14.8" lengthAdjust="spacingAndGlyphs" stroke="#000" stroke-width="0.3" font-weight="bold">−1</text>
<text x="167.0" y="0.3" font-size="23.0" stroke="#000" stroke-width="0.3" >]</text>
</g>
<text x="107.6" y="71.4" font-size="26.3" text-anchor="start" fill="#000" font-weight="normal" textLength="47.6" lengthAdjust="spacingAndGlyphs" >PEP</text>
<polygon points="113.4,81.3 105.3,94.8 121.5,94.8" fill="#000"/>
<text x="129.5" y="96.2" font-size="16.8" text-anchor="start" fill="#000" font-weight="normal" textLength="75.2" lengthAdjust="spacingAndGlyphs" xml:space="preserve" stroke="#000" stroke-width="0.55">all fields</text>
<rect x="104.8" y="111.3" width="16" height="16" fill="#ffff00" stroke="#ff0000" stroke-width="1.3"/>
<text x="129.5" y="123.7" font-size="17.4" text-anchor="start" fill="#ff0000" font-weight="normal" textLength="36.0" lengthAdjust="spacingAndGlyphs" stroke="#ff0000" stroke-width="0.55">P(D)</text>
<text x="384.2" y="415.6" font-size="18.0" text-anchor="start" fill="#000" font-weight="normal" textLength="93.2" lengthAdjust="spacingAndGlyphs" stroke="#000" stroke-width="0.25">GOODS−S:</text>
<rect x="386.3" y="422.0" width="22.4" height="14.8" fill="#0000ff"/>
<text x="415.9" y="437.7" font-size="17.8" text-anchor="start" fill="#0000ff" font-weight="normal" textLength="48.2" lengthAdjust="spacingAndGlyphs" stroke="#0000ff" stroke-width="0.4">0.0&lt;z</text>
<path d="M474.7 425.8 L466.4 430.0 L474.7 433.8 M466.0 435.6 H475.0 M466.0 437.6 H475.0" fill="none" stroke="#0000ff" stroke-width="1.1"/>
<text x="476.4" y="437.7" font-size="17.8" text-anchor="start" fill="#0000ff" font-weight="normal" textLength="25.6" lengthAdjust="spacingAndGlyphs" stroke="#0000ff" stroke-width="0.4">0.5</text>
<rect x="386.3" y="441.4" width="22.4" height="14.8" fill="#009966"/>
<text x="415.9" y="457.0" font-size="17.8" text-anchor="start" fill="#009966" font-weight="normal" textLength="48.2" lengthAdjust="spacingAndGlyphs" stroke="#009966" stroke-width="0.4">0.5&lt;z</text>
<path d="M474.7 445.1 L466.4 449.3 L474.7 453.1 M466.0 454.9 H475.0 M466.0 456.9 H475.0" fill="none" stroke="#009966" stroke-width="1.1"/>
<text x="476.4" y="457.0" font-size="17.8" text-anchor="start" fill="#009966" font-weight="normal" textLength="25.6" lengthAdjust="spacingAndGlyphs" stroke="#009966" stroke-width="0.4">1.0</text>
<rect x="386.3" y="460.8" width="22.4" height="14.8" fill="#ff8000"/>
<text x="415.9" y="476.3" font-size="17.8" text-anchor="start" fill="#ff8000" font-weight="normal" textLength="48.2" lengthAdjust="spacingAndGlyphs" stroke="#ff8000" stroke-width="0.4">1.0&lt;z</text>
<path d="M474.7 464.4 L466.4 468.6 L474.7 472.4 M466.0 474.2 H475.0 M466.0 476.2 H475.0" fill="none" stroke="#ff8000" stroke-width="1.1"/>
<text x="476.4" y="476.3" font-size="17.8" text-anchor="start" fill="#ff8000" font-weight="normal" textLength="25.6" lengthAdjust="spacingAndGlyphs" stroke="#ff8000" stroke-width="0.4">2.0</text>
<rect x="386.3" y="480.2" width="22.4" height="14.8" fill="#ff0000"/>
<text x="415.9" y="495.6" font-size="17.8" text-anchor="start" fill="#ff0000" font-weight="normal" textLength="48.2" lengthAdjust="spacingAndGlyphs" stroke="#ff0000" stroke-width="0.4">2.0&lt;z</text>
<path d="M474.7 483.7 L466.4 487.9 L474.7 491.7 M466.0 493.5 H475.0 M466.0 495.5 H475.0" fill="none" stroke="#ff0000" stroke-width="1.1"/>
<text x="476.4" y="495.6" font-size="17.8" text-anchor="start" fill="#ff0000" font-weight="normal" textLength="25.6" lengthAdjust="spacingAndGlyphs" stroke="#ff0000" stroke-width="0.4">5.0</text>
</svg></body></html>
